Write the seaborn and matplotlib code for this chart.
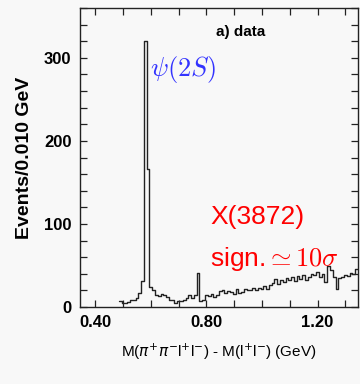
import numpy as np
import pandas as pd
import matplotlib
matplotlib.use('Agg')
import matplotlib.pyplot as plt
import seaborn as sns
from matplotlib.ticker import MultipleLocator, FixedLocator

# === Datos: histograma M(pi pi l l) - M(l l), bins de 0.010 GeV ===
bin_start = 0.485
bin_width = 0.010
counts = [
    7, 5, 5, 6, 8, 9, 11, 17, 31, 320,
    166, 24, 20, 14, 13, 16, 14, 12, 8, 8,
    5, 7, 7, 9, 11, 14, 11, 15, 41, 7,
    9, 15, 13, 16, 12, 15, 19, 21, 17, 19,
    18, 16, 22, 17, 18, 22, 20, 20, 23, 21,
    23, 22, 25, 22, 27, 29, 34, 28, 32, 30,
    35, 33, 36, 31, 37, 34, 38, 33, 36, 40,
    38, 42, 36, 40, 30, 49, 44, 36, 22, 35,
    36, 38, 37, 41, 40, 46,
]
n_bins = len(counts)
bin_end = bin_start + bin_width * n_bins
centers = bin_start + bin_width * (np.arange(n_bins) + 0.5)
df = pd.DataFrame({'masa': centers, 'eventos': counts})

x_ticks = [0.40, 0.80, 1.20]
y_ticks = [0, 100, 200, 300]

# === Gráfico ===
sns.set_style('ticks')
plt.rcParams['font.family'] = ['Liberation Sans', 'DejaVu Sans']
plt.rcParams['text.color'] = 'black'
plt.rcParams['axes.labelcolor'] = 'black'
plt.rcParams['xtick.color'] = 'black'
plt.rcParams['ytick.color'] = 'black'
bg = '#f8f8f8'

fig = plt.figure(figsize=(3.6, 3.84), dpi=100, facecolor=bg)
ax = fig.add_axes([0.222, 0.2005, 0.772, 0.7785], facecolor=bg)

sns.histplot(data=df, x='masa', weights='eventos', bins=n_bins,
             binrange=(bin_start, bin_end), element='step', fill=False,
             color='#222222', linewidth=1.0, ax=ax)

ax.set_xlim(0.345, 1.345)
ax.set_ylim(0, 360)

ax.xaxis.set_major_locator(FixedLocator(x_ticks))
ax.xaxis.set_minor_locator(MultipleLocator(0.1))
ax.yaxis.set_major_locator(FixedLocator(y_ticks))
ax.yaxis.set_minor_locator(MultipleLocator(20))
ax.set_xticklabels([f'{t:.2f}' for t in x_ticks])
ax.tick_params(which='both', direction='in', top=True, right=True,
               length=5, width=0.9, color='#222222', labelcolor='black')
ax.tick_params(which='major', labelsize=12, pad=6)
for lab in ax.get_xticklabels() + ax.get_yticklabels():
    lab.set_fontweight('bold')
for s in ax.spines.values():
    s.set_linewidth(1.0)
    s.set_color('#222222')

ax.set_xlabel(r'M($\pi^{+}\pi^{-}$l$^{+}$l$^{-}$) - M(l$^{+}$l$^{-}$) (GeV)',
              fontsize=11, labelpad=8)
ax.set_ylabel('Events/0.010 GeV', fontsize=14, fontweight='semibold',
              labelpad=8)

ax.text(0.58, 0.92, 'a) data', transform=ax.transAxes, fontsize=11,
        fontweight='bold', ha='center', va='center')
ax.text(0.252, 0.795, r'$\psi(2S)$', transform=ax.transAxes, fontsize=19,
        color='#3333ff', ha='left', va='center', math_fontfamily='cm')
ax.text(0.468, 0.3, 'X(3872)', transform=ax.transAxes, fontsize=19,
        color='#ff0000', ha='left', va='center')
ax.text(0.468, 0.16, r'sign.$\simeq 10\sigma$', transform=ax.transAxes,
        fontsize=19, color='#ff0000', ha='left', va='center',
        math_fontfamily='cm')

plt.savefig('out.png', dpi=100, facecolor=bg)
